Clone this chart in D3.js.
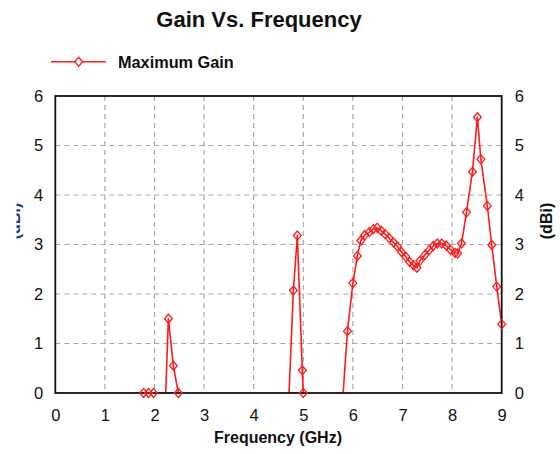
<!DOCTYPE html>
<html>
<head>
<meta charset="utf-8">
<script src="https://cdn.jsdelivr.net/npm/d3@7"></script>
<style>
  html, body { margin: 0; padding: 0; background: #fff; }
  svg { display: block; font-family: "Liberation Sans", Arial, sans-serif; }
</style>
</head>
<body>
<svg id="chart" width="560" height="454"></svg>
<script>
// ---- data ----
const chartTitle = "Gain Vs. Frequency";
const seriesName = "Maximum Gain";
const xAxisTitle = "Frequency (GHz)";
const yAxisTitle = "(dBi)";
const xTicks = [0, 1, 2, 3, 4, 5, 6, 7, 8, 9];
const yTicks = [0, 1, 2, 3, 4, 5, 6];
const freqGHz = [
  1.68, 1.78, 1.88, 1.98, 2.08, 2.18, 2.28, 2.38, 2.48, 2.58,
  4.70, 4.80, 4.88, 4.98, 5.00, 5.10,
  5.79, 5.89, 6.00, 6.09, 6.16, 6.24, 6.33, 6.41, 6.49, 6.57,
  6.65, 6.73, 6.82, 6.90, 6.98, 7.07, 7.14, 7.22, 7.29, 7.35,
  7.45, 7.54, 7.62, 7.70, 7.79, 7.88, 7.97, 8.06, 8.11, 8.19,
  8.29, 8.41, 8.51, 8.58, 8.71, 8.80, 8.90, 9.00
];
const gainDBi = [
  -2.0, 0.0, 0.0, 0.0, -3.0, -1.28, 1.50, 0.55, 0.0, -3.0,
  -0.3, 2.07, 3.18, 0.46, 0.0, -3.0,
  -0.2, 1.25, 2.22, 2.77, 3.08, 3.19, 3.25, 3.31, 3.34, 3.28,
  3.21, 3.13, 3.04, 2.96, 2.85, 2.75, 2.65, 2.58, 2.53, 2.67,
  2.79, 2.89, 2.97, 3.02, 3.02, 2.98, 2.89, 2.83, 2.82, 3.02,
  3.65, 4.47, 5.57, 4.72, 3.78, 2.99, 2.15, 1.39
];

// ---- layout ----
const svg = d3.select("#chart");
const plot = { left: 55.3, right: 501.7, top: 96, bottom: 393 };
const red = "#ff1a1a";

const x = d3.scaleLinear().domain([0, 9]).range([plot.left, plot.right]);
const y = d3.scaleLinear().domain([0, 6]).range([plot.bottom, plot.top]);

const points = freqGHz.map((f, i) => ({ f, g: gainDBi[i] }));

const defs = svg.append("defs");
defs.append("clipPath").attr("id", "plotClip")
  .append("rect")
  .attr("x", plot.left).attr("y", plot.top)
  .attr("width", plot.right - plot.left).attr("height", plot.bottom - plot.top);
defs.append("clipPath").attr("id", "leftTitleClip")
  .append("rect").attr("x", 16.5).attr("y", 150).attr("width", 40).attr("height", 150);

// title
svg.append("text")
  .attr("x", 259).attr("y", 27)
  .attr("text-anchor", "middle")
  .attr("font-size", 22).attr("font-weight", "bold").attr("fill", "#111")
  .text(chartTitle);

// diamond marker shape
const diamond = {
  draw(ctx) {
    const w = 3.9, h = 4.5;
    ctx.moveTo(0, -h); ctx.lineTo(w, 0); ctx.lineTo(0, h); ctx.lineTo(-w, 0); ctx.closePath();
  }
};
const sym = d3.symbol().type(diamond);

// legend
const lg = svg.append("g");
lg.append("line").attr("x1", 51).attr("x2", 106).attr("y1", 61.7).attr("y2", 61.7)
  .attr("stroke", red).attr("stroke-width", 1.6);
lg.append("path").attr("d", sym()).attr("transform", "translate(78.7,61.7)")
  .attr("fill", "#fff").attr("stroke", red).attr("stroke-width", 1.3);
lg.append("text").attr("x", 118).attr("y", 67.5)
  .attr("font-size", 16.3).attr("font-weight", "bold").attr("fill", "#111")
  .text(seriesName);

// grid
const grid = svg.append("g").attr("stroke", "#a8a8a8").attr("stroke-width", 1.2)
  .attr("stroke-dasharray", "5,4");
grid.selectAll(".vg").data(xTicks.slice(1, -1)).enter().append("line")
  .attr("x1", d => x(d)).attr("x2", d => x(d))
  .attr("y1", plot.top).attr("y2", plot.bottom);
grid.selectAll(".hg").data(yTicks.slice(1, -1)).enter().append("line")
  .attr("x1", plot.left).attr("x2", plot.right)
  .attr("y1", d => y(d)).attr("y2", d => y(d));

// axes (labels only)
const styleAxis = g => {
  g.select(".domain").remove();
  g.selectAll(".tick line").remove();
  g.selectAll(".tick text").attr("font-size", 16.5).attr("fill", "#111")
    .attr("font-family", "Liberation Sans, Arial, sans-serif");
};
svg.append("g").attr("transform", `translate(0,${plot.bottom})`)
  .call(d3.axisBottom(x).tickValues(xTicks).tickFormat(d3.format("d")).tickSize(0).tickPadding(16))
  .call(styleAxis);
svg.append("g").attr("transform", `translate(${plot.left},0)`)
  .call(d3.axisLeft(y).tickValues(yTicks).tickFormat(d3.format("d")).tickSize(0).tickPadding(12))
  .call(styleAxis);
svg.append("g").attr("transform", `translate(${plot.right},0)`)
  .call(d3.axisRight(y).tickValues(yTicks).tickFormat(d3.format("d")).tickSize(0).tickPadding(13))
  .call(styleAxis);

// axis titles
svg.append("text").attr("x", 278).attr("y", 443)
  .attr("text-anchor", "middle").attr("font-size", 16).attr("font-weight", "bold").attr("fill", "#111")
  .text(xAxisTitle);
svg.append("text")
  .attr("transform", "translate(552,221) rotate(-90)")
  .attr("text-anchor", "middle").attr("font-size", 16).attr("font-weight", "bold").attr("fill", "#111")
  .text(yAxisTitle);
svg.append("g").attr("clip-path", "url(#leftTitleClip)")
  .append("text")
  .attr("transform", "translate(19.5,221) rotate(-90)")
  .attr("text-anchor", "middle").attr("font-size", 16).attr("font-weight", "bold").attr("fill", "#1f3a8a")
  .text(yAxisTitle);

// series line
const line = d3.line().x(d => x(d.f)).y(d => y(d.g));
svg.append("g").attr("clip-path", "url(#plotClip)")
  .append("path").datum(points)
  .attr("d", line).attr("fill", "none")
  .attr("stroke", red).attr("stroke-width", 1.6).attr("stroke-linejoin", "round");

// plot border
svg.append("rect")
  .attr("x", plot.left).attr("y", plot.top)
  .attr("width", plot.right - plot.left).attr("height", plot.bottom - plot.top)
  .attr("fill", "none").attr("stroke", "#111").attr("stroke-width", 1.8);

// markers
svg.append("g").selectAll("path").data(points.filter(d => d.g >= 0 && d.g <= 6))
  .enter().append("path")
  .attr("d", sym())
  .attr("transform", d => `translate(${x(d.f)},${y(d.g)})`)
  .attr("fill", "none").attr("stroke", red).attr("stroke-width", 1.3);
</script>
</body>
</html>
